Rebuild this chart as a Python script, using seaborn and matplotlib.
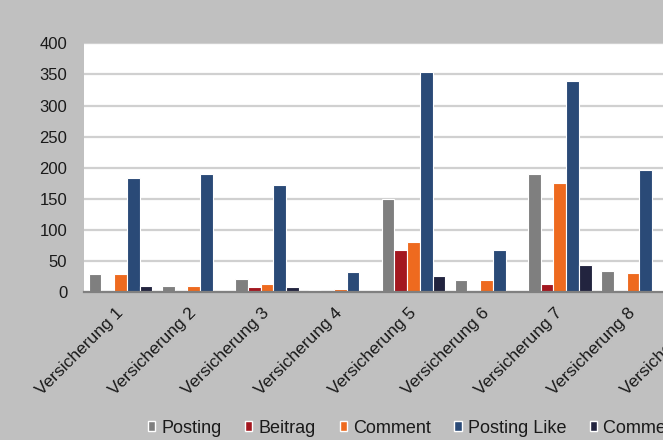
import matplotlib
matplotlib.use("Agg")
import matplotlib.pyplot as plt
import seaborn as sns
import pandas as pd
import numpy as np

categories = ["Versicherung 1", "Versicherung 2", "Versicherung 3", "Versicherung 4",
              "Versicherung 5", "Versicherung 6", "Versicherung 7", "Versicherung 8"]
all_ticks = categories + ["Versicherung 9"]
series = ["Posting", "Beitrag", "Comment", "Posting Like", "Comment Like"]
posting      = [29, 10, 22, 4, 150, 20, 190, 35]
beitrag      = [0, 0, 8, 0, 68, 0, 13, 0]
comment      = [29, 10, 13, 5, 81, 20, 175, 31]
posting_like = [184, 190, 172, 32, 354, 68, 339, 196]
comment_like = [10, 0, 8, 0, 26, 0, 44, 4]
colors = ["#7f7f7f", "#a3171f", "#ee6a1f", "#2a4a77", "#22243f"]
yticks = [0, 50, 100, 150, 200, 250, 300, 350, 400]

values = [posting, beitrag, comment, posting_like, comment_like]
rows = []
for s, vals in zip(series, values):
    for c, v in zip(categories, vals):
        rows.append({"cat": c, "series": s, "value": v})
df = pd.DataFrame(rows)

sns.set_theme(style="white")
plt.rcParams["font.family"] = ["Liberation Sans", "DejaVu Sans"]
plt.rcParams["font.size"] = 12

fig = plt.figure(figsize=(6.63, 4.4), dpi=100)
fig.patch.set_facecolor("#c0c0c0")
W, H = 663, 440
left_px, bottom_px, top_px = 84, 292.3, 43.3
group_px = 73.2
ax = fig.add_axes([left_px / W, (H - bottom_px) / H, 9 * group_px / W, (bottom_px - top_px) / H])
ax.set_facecolor("white")

sns.barplot(data=df, x="cat", y="value", hue="series", order=all_ticks,
            hue_order=series, palette=colors, saturation=1, width=0.87, ax=ax,
            edgecolor="white", linewidth=0.8, legend=False, errorbar=None)

ax.set_xlim(-0.5, 8.5)
ax.set_ylim(0, 400)
ax.set_yticks(yticks)
ax.set_yticklabels([str(t) for t in yticks])
ax.yaxis.grid(True, color="#d0d0d0", linewidth=1.6)
ax.set_axisbelow(True)
for side in ["left", "right", "top"]:
    ax.spines[side].set_visible(False)
ax.spines["bottom"].set_color("#808080")
ax.spines["bottom"].set_linewidth(1.6)
ax.tick_params(axis="y", length=0, pad=12, labelsize=12, labelcolor="#1a1a1a")
ax.tick_params(axis="x", length=0, pad=13, labelsize=12.5, labelcolor="#1a1a1a")
ax.set_xlabel("")
ax.set_ylabel("")
for lab in ax.get_xticklabels():
    lab.set_rotation(45)
    lab.set_ha("right")
    lab.set_va("center")
    lab.set_rotation_mode("anchor")

from matplotlib.patches import Patch
handles = [Patch(facecolor=c, edgecolor="white", linewidth=1) for c in colors]
fig.legend(handles, series, loc="center left", bbox_to_anchor=(148 / W, 1 - 428 / H),
           ncol=5, frameon=False, handlelength=0.4, handleheight=0.4,
           handletextpad=0.35, columnspacing=1.3, borderpad=0, borderaxespad=0,
           fontsize=13, labelcolor="#1a1a1a")

fig.savefig("out.png", dpi=100, facecolor=fig.get_facecolor())
